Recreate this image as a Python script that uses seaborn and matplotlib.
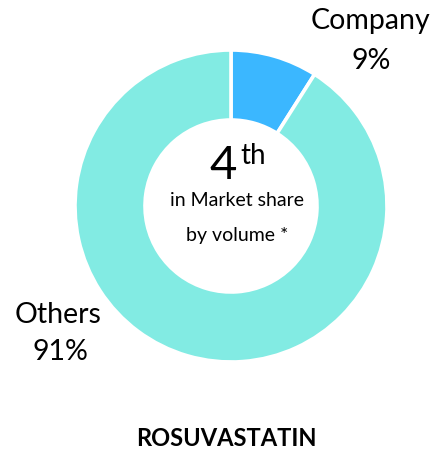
import matplotlib.pyplot as plt
import seaborn as sns

# data
labels = ["Company", "Others"]
shares = [9, 91]
colors = ["#3BB7FF", "#82EBE3"]

sns.set_theme(style="white")
plt.rcParams['font.family'] = ['Lato', 'DejaVu Sans']

fig = plt.figure(figsize=(4.34, 4.51), dpi=100)
ax = fig.add_axes([0, 0, 1, 1])

ax.pie(
    shares,
    colors=colors,
    startangle=90,
    counterclock=False,
    center=(231, 245),
    radius=156,
    wedgeprops={'width': 70, 'edgecolor': 'white', 'linewidth': 2.6},
    frame=True,
)
ax.set_xlim(0, 434)
ax.set_ylim(0, 451)
ax.set_aspect('equal')
ax.axis('off')

# slice labels
ax.text(370, 430, labels[0], ha='center', va='center', fontsize=20.5, color='black')
ax.text(371, 390, f"{shares[0]}%", ha='center', va='center', fontsize=20.5, color='black')
ax.text(58, 136, labels[1], ha='center', va='center', fontsize=20.5, color='black')
ax.text(60, 99, f"{shares[1]}%", ha='center', va='center', fontsize=20.5, color='black')

# centre text
ax.text(223, 285, "4", ha='center', va='center', fontsize=34, color='black')
ax.text(253, 295, "th", ha='center', va='center', fontsize=20, color='black')
ax.text(237, 251, "in Market share", ha='center', va='center', fontsize=14, color='black')
ax.text(237, 215, "by volume *", ha='center', va='center', fontsize=14, color='black')

ax.text(226, 13, "ROSUVASTATIN", ha='center', va='center', fontsize=17,
        fontweight='bold', color='black')

fig.savefig("out.png", dpi=100, facecolor='white')
